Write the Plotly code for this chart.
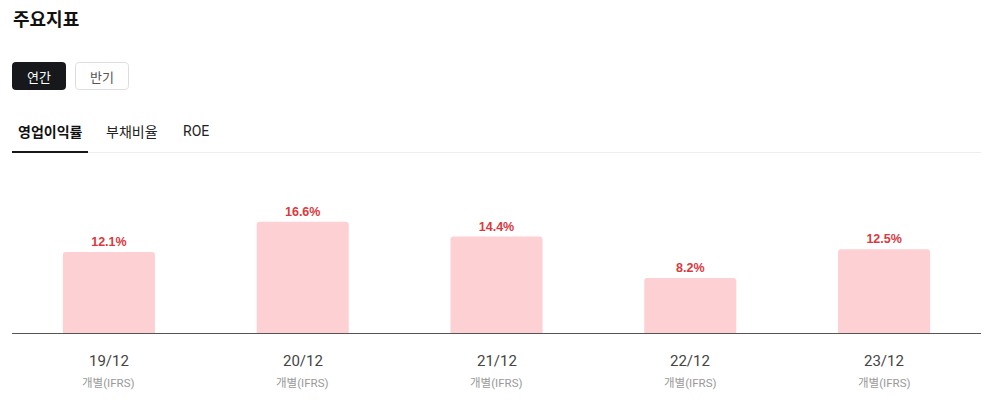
import plotly.graph_objects as go

categories = ["19/12", "20/12", "21/12", "22/12", "23/12"]
values = [12.1, 16.6, 14.4, 8.2, 12.5]
sub_label = "개별(IFRS)"
value_labels = [f"{v}%" for v in values]

W, H = 989, 405
L, R, T, B = 12, 8, 160, 72
PW = W - L - R
PH = H - T - B
YMAX = PH / 6.7

def px(x):
    return (x - L) / PW

def py(y):
    return (H - B - y) / PH

FONT = "Roboto, Noto Sans CJK KR, sans-serif"
KFONT = "Noto Sans CJK KR, sans-serif"
VFONT = "Liberation Sans, Arial, sans-serif"

def rrect(x0, y0, x1, y1, r):
    pts = [
        ("M", x0 + r, y0), ("L", x1 - r, y0), ("Q", x1, y0, x1, y0 + r),
        ("L", x1, y1 - r), ("Q", x1, y1, x1 - r, y1), ("L", x0 + r, y1),
        ("Q", x0, y1, x0, y1 - r), ("L", x0, y0 + r), ("Q", x0, y0, x0 + r, y0),
    ]
    s = ""
    for p in pts:
        coords = p[1:]
        parts = [f"{px(coords[i]):.5f},{py(coords[i+1]):.5f}" for i in range(0, len(coords), 2)]
        s += p[0] + " " + " ".join(parts) + " "
    return s + "Z"

fig = go.Figure()
fig.add_trace(go.Bar(
    x=categories, y=values,
    marker=dict(color="#fdd0d4", cornerradius=3, line=dict(width=0)),
    width=0.475,
    text=value_labels, textposition="outside",
    textfont=dict(family=VFONT, size=12.5, color="#d9393e", weight="bold"),
    cliponaxis=False, hoverinfo="skip",
))

shapes = []
annotations = []

def ann(text, x, y, size, color, anchor="center", family=KFONT):
    annotations.append(dict(text=text, x=px(x), y=py(y), xref="paper", yref="paper",
                            xanchor=anchor, yanchor="middle", showarrow=False,
                            font=dict(family=family, size=size, color=color)))

# header
ann("<b>주요지표</b>", 11, 18, 18, "#111", anchor="left")
# buttons
shapes.append(dict(type="path", xref="paper", yref="paper", path=rrect(12, 62, 66, 90, 4),
                   fillcolor="#16181b", line=dict(width=0), layer="below"))
ann("연간", 39, 76, 13, "#ffffff")
shapes.append(dict(type="path", xref="paper", yref="paper", path=rrect(75.5, 62.5, 128.5, 89.5, 4),
                   fillcolor="#ffffff", line=dict(width=1, color="#dddddd"), layer="below"))
ann("반기", 102, 76, 13, "#555555")
# tabs
ann("<b>영업이익률</b>", 50, 131, 14, "#111")
ann("부채비율", 132, 131, 14, "#222")
ann("ROE", 196, 131, 14, "#222", family=FONT)
shapes.append(dict(type="line", xref="paper", yref="paper", x0=px(88), x1=px(981), y0=py(152.5), y1=py(152.5),
                   line=dict(width=1, color="#eeeeee")))
shapes.append(dict(type="line", xref="paper", yref="paper", x0=px(12), x1=px(88), y0=py(152), y1=py(152),
                   line=dict(width=2, color="#16181b")))

# category labels
for c in categories:
    annotations.append(dict(text=c, x=c, y=0, xref="x", yref="paper", yshift=-28,
                            xanchor="center", yanchor="middle", showarrow=False,
                            font=dict(family=FONT, size=15, color="#444")))
    annotations.append(dict(text=sub_label, x=c, y=0, xref="x", yref="paper", yshift=-50,
                            xanchor="center", yanchor="middle", showarrow=False,
                            font=dict(family=FONT, size=11.5, color="#999")))

fig.update_layout(
    width=W, height=H,
    margin=dict(l=L, r=R, t=T, b=B),
    paper_bgcolor="white", plot_bgcolor="white",
    showlegend=False,
    xaxis=dict(showticklabels=False, showgrid=False, zeroline=False, showline=True,
               linecolor="#555", linewidth=1, ticks="", fixedrange=True),
    yaxis=dict(range=[0, YMAX], showticklabels=False, showgrid=False, zeroline=False,
               showline=False, fixedrange=True),
    shapes=shapes, annotations=annotations,
)

fig.write_html("out.html", config={"displayModeBar": False},
               post_script="document.body.style.margin='0';document.body.style.overflow='hidden';")
